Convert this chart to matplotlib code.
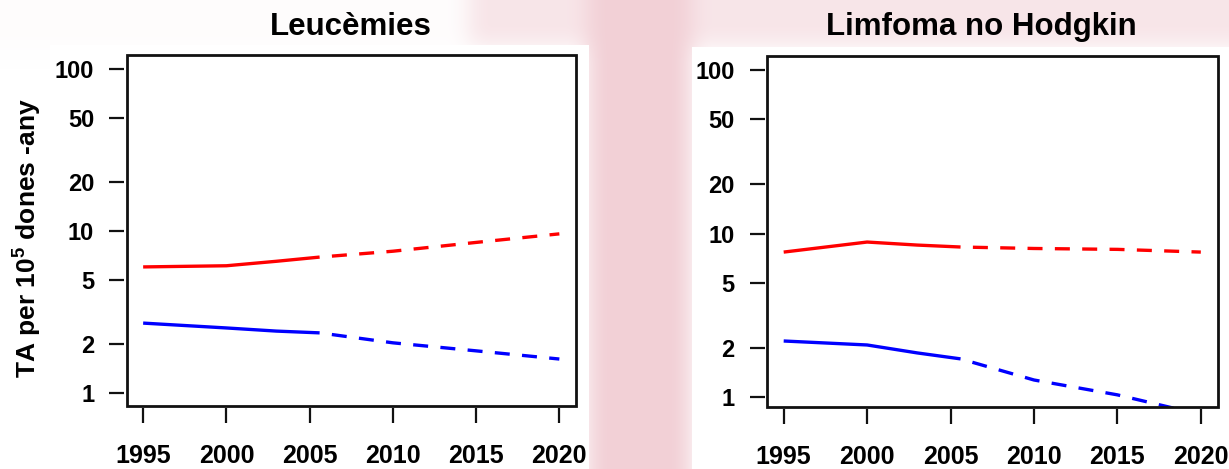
import numpy as np
import matplotlib
matplotlib.use("Agg")
import matplotlib.pyplot as plt
from matplotlib.patches import Rectangle

plt.rcParams['font.family'] = ['Liberation Sans', 'DejaVu Sans']
plt.rcParams['font.weight'] = 'bold'
plt.rcParams['mathtext.fontset'] = 'custom'
plt.rcParams['mathtext.rm'] = 'Liberation Sans:bold'

# Data
titles = ["Leucèmies", "Limfoma no Hodgkin"]
ylabel = "TA per 10$^5$ dones -any"
xticks = [1995, 2000, 2005, 2010, 2015, 2020]
yticks = [1, 2, 5, 10, 20, 50, 100]

obs_years = [1995, 2000, 2003, 2005.6]
proj_years = [2005.6, 2010, 2015, 2020]

# Leucèmies
leu_red_obs = [6.0, 6.1, 6.5, 6.9]
leu_red_proj = [6.9, 7.5, 8.5, 9.6]
leu_blue_obs = [2.7, 2.52, 2.41, 2.35]
leu_blue_proj = [2.35, 2.04, 1.82, 1.62]

# Limfoma no Hodgkin
lnh_red_obs = [7.7, 8.87, 8.5, 8.27]
lnh_red_proj = [8.27, 8.1, 8.0, 7.7]
lnh_blue_obs = [2.2, 2.08, 1.86, 1.71]
lnh_blue_proj = [1.71, 1.27, 1.03, 0.78]

W, H = 1229, 469
fig = plt.figure(figsize=(W / 100, H / 100), dpi=100)

# soft pink background (slide watermark) behind the plot panels
mask = np.zeros((H, W))
mask[0:47, 470:] = 0.55
mask[0:47, 0:470] = 0.06
mask[:, 589:692] = 1.0

def blur(a, k):
    c = np.cumsum(np.pad(a, ((0, 0), (k, k)), mode='edge'), axis=1)
    a = (c[:, 2 * k:] - c[:, :-2 * k]) / (2 * k)
    c = np.cumsum(np.pad(a, ((k, k), (0, 0)), mode='edge'), axis=0)
    return (c[2 * k:, :] - c[:-2 * k, :]) / (2 * k)

mask = blur(blur(mask, 12), 12)[:H, :W]
pink = np.array([242, 208, 214]) / 255.0
bg = 1 - mask[..., None] * (1 - pink)
bgax = fig.add_axes([0, 0, 1, 1])
bgax.imshow(bg, aspect='auto', interpolation='bilinear')
bgax.axis('off')

def px_rect(x0, y0, x1, y1, color):
    fig.patches.append(Rectangle((x0 / W, 1 - y1 / H), (x1 - x0) / W, (y1 - y0) / H,
                                 transform=fig.transFigure, facecolor=color,
                                 edgecolor='none', zorder=1))

px_rect(50, 45, 589, H, 'white')
px_rect(692, 47, W, H, 'white')

panels = [
    ([126.5, 55, 576, 406], (0.831, 122), leu_red_obs, leu_red_proj, leu_blue_obs, leu_blue_proj),
    ([767, 56, 1217.5, 407], (0.868, 122), lnh_red_obs, lnh_red_proj, lnh_blue_obs, lnh_blue_proj),
]

lw = 2.4
dashed = (4.5, (4.5, 3.7))

for i, (box, ylim, r_obs, r_proj, b_obs, b_proj) in enumerate(panels):
    x0, y0, x1, y1 = box
    ax = fig.add_axes([x0 / W, 1 - y1 / H, (x1 - x0) / W, (y1 - y0) / H])
    ax.set_zorder(2)
    ax.patch.set_alpha(0)

    ax.plot(obs_years, r_obs, color='red', lw=lw, solid_capstyle='butt')
    ax.plot(proj_years, r_proj, color='red', lw=lw, linestyle=dashed)
    ax.plot(obs_years, b_obs, color='blue', lw=lw, solid_capstyle='butt')
    ax.plot(proj_years, b_proj, color='blue', lw=lw, linestyle=dashed)

    ax.set_yscale('log')
    ax.set_ylim(*ylim)
    ax.set_xlim(1994.0, 2021.0)
    ax.set_yticks(yticks)
    ax.set_yticklabels([str(t) for t in yticks])
    ax.minorticks_off()
    ax.set_xticks(xticks)
    ax.set_xticklabels([str(t) for t in xticks])

    # R-style: ticks hang off a slightly offset axis, box drawn separately
    for s in ['left', 'bottom']:
        ax.spines[s].set_position(('outward', 1.5))
    for s in ax.spines.values():
        s.set_visible(False)
    ax.add_patch(Rectangle((0, 0), 1, 1, transform=ax.transAxes, fill=False,
                           lw=2.0, edgecolor='#111111', clip_on=False, zorder=5))

    ax.tick_params(axis='x', length=10.8, width=1.6, pad=15, labelsize=18, color='#111111')
    ax.tick_params(axis='y', length=10.8, width=1.6, pad=11, labelsize=17, color='#111111')

    cx = (x0 + x1) / 2 if i == 0 else 981.5
    fig.text(cx / W, 1 - 27 / H, titles[i], ha='center', va='center',
             fontsize=22.5, fontweight='bold', zorder=3)

fig.text(27 / W, 1 - 238 / H, ylabel, rotation=90, ha='center', va='center',
         fontsize=19, fontweight='bold', zorder=3)

fig.savefig('out.png', dpi=100)
